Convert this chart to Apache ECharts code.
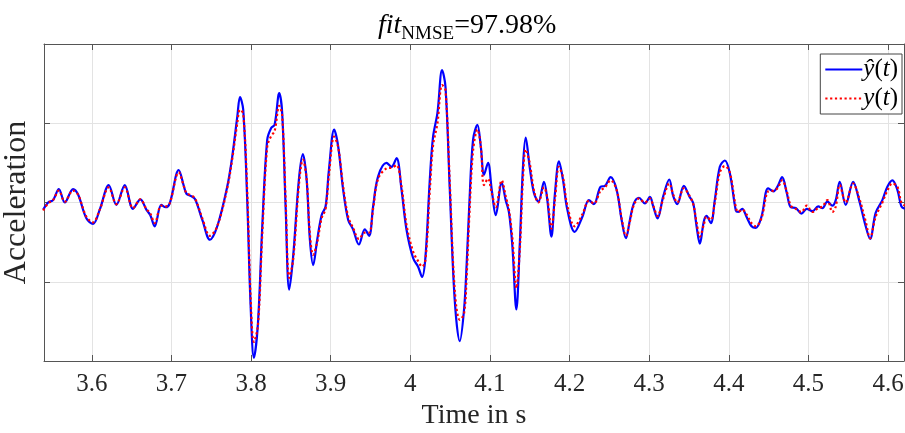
<!DOCTYPE html>
<html>
<head>
<meta charset="utf-8">
<script src="https://cdn.jsdelivr.net/npm/echarts@6/dist/echarts.min.js"></script>
<style>
html,body{margin:0;padding:0;background:#fff;}
#chart{width:905px;height:433px;}
</style>
</head>
<body>
<div id="chart"></div>
<script>
// ---- data ----
const time = [3.539,3.5452,3.5514,3.5586,3.5661,3.5765,3.5828,3.5932,3.6016,3.6100,
3.6213,3.6309,3.6414,3.6518,3.6610,3.6685,3.6735,3.6790,3.6873,3.6928,
3.6979,3.7092,3.7158,3.7189,3.7248,3.7298,3.7388,3.7484,3.7576,3.7701,
3.7764,3.7827,3.7861,3.7902,3.7952,3.7995,3.8036,3.8087,3.8141,3.8203,
3.8253,3.8296,3.8354,3.8391,3.8434,3.8479,3.8529,3.8601,3.8651,3.8698,
3.8739,3.8780,3.8831,3.8886,3.8936,3.8977,3.9044,3.9094,3.9157,3.9220,
3.9282,3.9354,3.9429,3.9483,3.9533,3.9596,3.9701,3.9764,3.9827,3.9890,
3.9952,4.0035,4.0098,4.0148,4.0191,4.0245,4.0286,4.0341,4.0399,4.0442,
4.0496,4.0558,4.0621,4.0675,4.0709,4.0740,4.0788,4.0843,4.0885,4.0926,
4.0976,4.1023,4.1073,4.1148,4.1198,4.1240,4.1282,4.1332,4.1374,4.1415,
4.1449,4.1499,4.1553,4.1609,4.1679,4.1721,4.1772,4.1817,4.1867,4.1917,
4.1972,4.2064,4.2161,4.2243,4.2306,4.2390,4.2444,4.2516,4.2591,4.2654,
4.2708,4.2758,4.2808,4.2871,4.2946,4.3009,4.3051,4.3105,4.3177,4.3252,
4.3302,4.3353,4.3435,4.3503,4.3553,4.3595,4.3636,4.3686,4.3720,4.3774,
4.3824,4.3887,4.3950,4.4013,4.4088,4.4118,4.4168,4.4222,4.4285,4.4339,
4.4410,4.4494,4.4561,4.4611,4.4670,4.4728,4.4778,4.4841,4.4912,4.4979,
4.5050,4.5122,4.5176,4.5238,4.5301,4.5343,4.5393,4.5468,4.5561,4.5636,
4.5719,4.5774,4.5844,4.5928,4.5991,4.6054,4.6117,4.6167,4.6210];

const yHat = [-0.09,0.00,0.03,0.17,0.00,0.17,0.10,-0.20,-0.27,-0.09,
0.22,-0.03,0.22,-0.08,0.04,-0.09,-0.16,-0.30,-0.03,-0.06,
-0.01,0.41,0.20,0.11,0.08,0.04,-0.22,-0.47,-0.30,0.20,
0.58,1.08,1.33,1.17,0.03,-1.31,-1.96,-1.52,-0.30,0.79,
0.94,0.98,1.38,1.13,-0.05,-1.10,-0.68,0.29,0.61,0.29,
-0.47,-0.79,-0.47,-0.16,-0.05,0.40,0.92,0.71,0.16,-0.22,
-0.34,-0.53,-0.34,-0.42,-0.05,0.33,0.50,0.45,0.56,0.16,
-0.34,-0.70,-0.81,-0.94,-0.68,0.29,0.83,1.13,1.67,1.46,
0.16,-1.23,-1.75,-1.35,-0.75,-0.05,0.79,0.98,0.71,0.35,
0.50,0.16,-0.16,0.25,0.03,-0.13,-0.55,-1.35,-0.55,0.45,
0.82,0.45,0.12,0.01,0.26,0.03,-0.43,0.12,0.52,0.29,
-0.09,-0.37,-0.18,0.03,-0.02,0.20,0.21,0.32,0.16,-0.22,
-0.45,-0.22,-0.01,0.06,-0.01,0.07,-0.05,-0.20,0.08,0.29,
0.08,-0.02,0.21,0.08,-0.01,-0.30,-0.52,-0.24,-0.17,-0.26,
0.03,0.45,0.53,0.37,-0.10,-0.12,-0.08,-0.18,-0.30,-0.32,
-0.18,0.18,0.14,0.20,0.32,0.12,-0.06,-0.07,-0.14,-0.08,
-0.11,-0.05,-0.07,0.01,-0.04,0.03,0.26,-0.03,0.26,0.03,
-0.30,-0.46,-0.13,0.03,0.20,0.28,0.16,-0.05,-0.08];

const yMeas = [-0.10,-0.01,0.03,0.15,0.01,0.15,0.10,-0.18,-0.25,-0.09,
0.19,-0.02,0.19,-0.07,0.04,-0.08,-0.14,-0.26,-0.04,-0.05,
-0.01,0.38,0.20,0.12,0.09,0.05,-0.20,-0.42,-0.30,0.18,
0.55,1.00,1.17,1.12,0.15,-1.20,-1.76,-1.55,-0.40,0.70,
0.84,0.90,1.22,1.10,0.05,-0.95,-0.72,0.22,0.54,0.30,
-0.40,-0.66,-0.50,-0.20,-0.08,0.33,0.83,0.70,0.20,-0.18,
-0.32,-0.46,-0.38,-0.38,-0.08,0.30,0.43,0.44,0.47,0.20,
-0.28,-0.62,-0.74,-0.81,-0.72,0.15,0.72,1.00,1.48,1.42,
0.25,-1.10,-1.48,-1.40,-0.90,-0.20,0.65,0.92,0.72,0.22,
0.30,0.12,-0.06,0.28,0.08,-0.10,-0.45,-1.08,-0.62,0.30,
0.67,0.50,0.15,0.00,0.19,0.06,-0.33,0.04,0.45,0.32,
-0.04,-0.30,-0.15,0.02,-0.01,0.15,0.19,0.28,0.16,-0.20,
-0.42,-0.24,-0.03,0.05,0.00,0.05,-0.04,-0.17,0.05,0.24,
0.10,0.00,0.18,0.09,-0.02,-0.25,-0.43,-0.28,-0.18,-0.22,
0.00,0.38,0.46,0.38,-0.06,-0.12,-0.09,-0.15,-0.26,-0.30,
-0.20,0.14,0.15,0.18,0.28,0.14,-0.04,-0.08,-0.12,-0.04,
-0.12,-0.07,-0.05,0.03,-0.12,-0.05,0.22,0.00,0.24,0.06,
-0.24,-0.45,-0.18,0.00,0.15,0.24,0.20,0.00,-0.04];

const xTickLabels = ['3.6','3.7','3.8','3.9','4','4.1','4.2','4.3','4.4','4.5','4.6'];
const seriesNames = ['ŷ(t)','y(t)'];
const titleParts = ['fit','NMSE','=97.98%'];

// ---- chart ----
const xTicks = xTickLabels.map(Number);
const serif = 'Liberation Serif';
const frameColor = '#555';
const gridColor = '#e3e3e3';

const chart = echarts.init(document.getElementById('chart'), null, {renderer:'canvas'});

const xBase = {
  type:'value', min:3.54, max:4.62,
  axisLine:{show:true, onZero:false, lineStyle:{color:frameColor, width:1}},
};
const yBase = {
  type:'value', min:-2, max:2, interval:1,
  axisLine:{show:true, onZero:false, lineStyle:{color:frameColor, width:1}},
};

const option = {
  animation:false,
  backgroundColor:'#fff',
  title:{
    text:'{i|' + titleParts[0] + '}{s|' + titleParts[1] + '}{n|' + titleParts[2] + '}',
    left:373, top:3,
    textStyle:{
      fontWeight:'normal',
      rich:{
        i:{fontFamily:serif, fontStyle:'italic', fontWeight:'normal', fontSize:28, color:'#000', lineHeight:36, verticalAlign:'middle'},
        s:{fontFamily:serif, fontWeight:'normal', fontSize:19, color:'#000', lineHeight:36, verticalAlign:'bottom'},
        n:{fontFamily:serif, fontWeight:'normal', fontSize:28, color:'#000', lineHeight:36, verticalAlign:'middle'}
      }
    }
  },
  grid:{left:44, right:1, top:44, bottom:72, containLabel:false, outerBoundsMode:'none'},
  legend:{
    data:seriesNames,
    orient:'vertical',
    right:3, top:54,
    itemWidth:37, itemHeight:14, itemGap:4,
    padding:[3,4,3,4],
    backgroundColor:'#fff',
    borderColor:'#444', borderWidth:1,
    itemStyle:{opacity:0},
    formatter: function(name){
      if (name === seriesNames[0]) return '{i|ŷ}{u|(}{i|t}{u|)}';
      return '{i|y}{u|(}{i|t}{u|)}';
    },
    textStyle:{
      padding:[0,0,0,-4],
      rich:{
        i:{fontFamily:serif, fontStyle:'italic', fontSize:25, color:'#000'},
        u:{fontFamily:serif, fontSize:25, color:'#000'}
      }
    }
  },
  xAxis:[
    Object.assign({}, xBase, {
      position:'bottom',
      name:'Time in s', nameLocation:'middle', nameGap:35,
      nameTextStyle:{fontFamily:serif, fontSize:28, color:'#262626'},
      axisTick:{show:true, inside:true, length:6, customValues:xTicks, lineStyle:{color:frameColor}},
      axisLabel:{show:true, customValues:xTicks, margin:11, fontFamily:serif, fontSize:25, color:'#262626',
        formatter:function(v){ const k = xTicks.findIndex(t=>Math.abs(t-v)<1e-6); return k>=0 ? xTickLabels[k] : ''; }},
      splitLine:{show:true, customValues:xTicks, lineStyle:{color:gridColor, width:1}}
    }),
    Object.assign({}, xBase, {
      position:'top',
      axisTick:{show:true, inside:true, length:6, customValues:xTicks, lineStyle:{color:frameColor}},
      axisLabel:{show:false, customValues:xTicks},
      splitLine:{show:false}
    })
  ],
  yAxis:[
    Object.assign({}, yBase, {
      position:'left',
      name:'Acceleration', nameLocation:'middle', nameGap:11,
      nameTextStyle:{fontFamily:serif, fontSize:32, color:'#262626'},
      axisTick:{show:true, inside:true, length:6, lineStyle:{color:frameColor}},
      axisLabel:{show:false},
      splitLine:{show:true, lineStyle:{color:gridColor, width:1}}
    }),
    Object.assign({}, yBase, {
      position:'right',
      axisTick:{show:true, inside:true, length:6, lineStyle:{color:frameColor}},
      axisLabel:{show:false},
      splitLine:{show:false}
    })
  ],
  series:[
    {
      name:seriesNames[0], type:'line', xAxisIndex:0, yAxisIndex:0,
      data: time.map((t,i)=>[t, yHat[i]]),
      showSymbol:false, symbol:'none', smooth:0.35,
      lineStyle:{color:'#0000ff', width:2.2},
      itemStyle:{color:'#0000ff'},
      z:2
    },
    {
      name:seriesNames[1], type:'line', xAxisIndex:0, yAxisIndex:0,
      data: time.map((t,i)=>[t, yMeas[i]]),
      showSymbol:false, symbol:'none', smooth:0.35,
      lineStyle:{color:'#ff0000', width:2.2, type:[2.2,2.6]},
      itemStyle:{color:'#ff0000'},
      z:3
    }
  ]
};
chart.setOption(option);
</script>
</body>
</html>
